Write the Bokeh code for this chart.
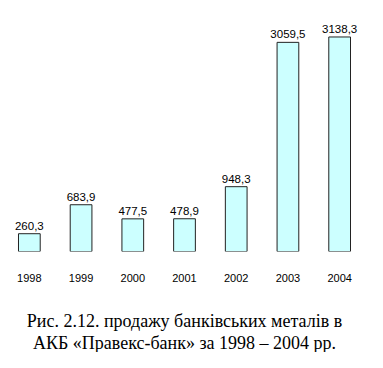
from bokeh.plotting import figure
from bokeh.models import ColumnDataSource, Range1d, Title
from bokeh.core.properties import value
from bokeh.embed import file_html
from bokeh.resources import INLINE

years = ["1998", "1999", "2000", "2001", "2002", "2003", "2004"]
sales = [260.3, 683.9, 477.5, 478.9, 948.3, 3059.5, 3138.3]
value_labels = [f"{v:.1f}".replace(".", ",") for v in sales]
caption_1 = "Рис. 2.12. продажу банківських металів в"
caption_2 = "АКБ «Правекс-банк» за 1998 – 2004 рр."

src = ColumnDataSource(dict(year=years, sales=sales, label=value_labels))

p = figure(x_range=years, width=367, height=352, output_backend="svg",
           toolbar_location=None, min_border_left=3, min_border_right=2,
           min_border_top=0, min_border_bottom=0)
p.y_range = Range1d(0, max(sales) * 1.17)
p.x_range.range_padding = 0

p.vbar(x="year", top="sales", width=0.42, source=src,
       fill_color="#CCFFFF", line_color="#222222", line_width=1)
p.text(x="year", y="sales", text="label", source=src, text_align="center",
       text_baseline="alphabetic", y_offset=-8, text_font=value("Liberation Sans"),
       text_font_size="11.5px", text_color="#000000")

p.yaxis.visible = False
p.xgrid.visible = False
p.ygrid.visible = False
p.outline_line_color = None
p.xaxis.axis_line_color = None
p.xaxis.major_tick_line_color = None
p.xaxis.minor_tick_line_color = None
p.xaxis.major_tick_out = 0
p.xaxis.major_tick_in = 0
p.xaxis.major_label_standoff = 22
p.xaxis.major_label_text_font = "Liberation Sans"
p.xaxis.major_label_text_font_size = "11px"
p.xaxis.major_label_text_color = "#000000"

spacer = Title(text=" ", text_font_size="1px", standoff=21, text_color="#FFFFFF")
p.add_layout(spacer, "below")
for txt in (caption_1, caption_2):
    t = Title(text=txt, align="center", text_font="Liberation Serif",
              text_font_size="18px", text_font_style="normal", text_color="#000000",
              standoff=0)
    p.add_layout(t, "below")

open("out.html", "w").write(file_html(p, INLINE))
